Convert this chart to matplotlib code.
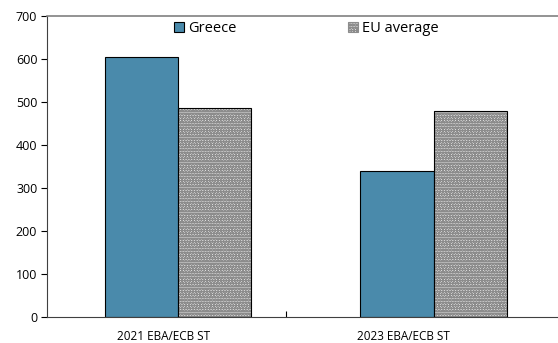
import numpy as np
import matplotlib.pyplot as plt
from matplotlib.patches import Patch

# Data
categories = ["2021 EBA/ECB ST", "2023 EBA/ECB ST"]
greece = [605, 340]
eu_average = [486, 480]

plt.rcParams['font.family'] = ['Open Sans', 'DejaVu Sans']
plt.rcParams['font.size'] = 8

fig = plt.figure(figsize=(5.58, 3.43), dpi=100)
ax = fig.add_axes([47 / 558, 1 - 317 / 343, 1 - 47 / 558, (317 - 16) / 343])

x = np.arange(len(categories))
width = 0.286
blue = "#4a8aab"

ax.bar(x - width / 2, greece, width, color=blue, edgecolor="black", linewidth=0.8, zorder=2)
# hatched bars: texture first, black outline on top
ax.bar(x + width / 2, eu_average, width, color="#ececec", edgecolor="#8c8c8c",
       hatch="oooooo", linewidth=0, zorder=2)
ax.bar(x + width / 2, eu_average, width, fill=False, edgecolor="black", linewidth=0.8, zorder=3)

ax.set_xlim(-0.513, 1.487)
ax.set_ylim(0, 700)
ax.set_yticks(np.arange(0, 701, 100))
ax.tick_params(axis='y', direction='out', length=4, width=0.8, pad=3, labelsize=9)

# category labels as minor ticks (sit a bit left of the bar groups), single separator tick as major
ax.set_xticks([0.423])
ax.set_xticklabels([])
ax.tick_params(axis='x', which='major', direction='in', length=4, width=0.8)
ax.set_xticks(x - np.array([0.057, 0.119]), minor=True)
ax.set_xticklabels(categories, minor=True)
ax.tick_params(axis='x', which='minor', length=0, pad=9, labelsize=8.5)

ax.spines['right'].set_visible(False)
ax.spines['top'].set_color("#808080")
ax.spines['top'].set_linewidth(1.2)
ax.spines['left'].set_color("#404040")
ax.spines['bottom'].set_color("#404040")

handles = [Patch(facecolor=blue, edgecolor="black", linewidth=0.8),
           Patch(facecolor="#ececec", edgecolor="#8c8c8c", hatch="oooooo", linewidth=0.8)]
ax.legend(handles, ["Greece", "EU average"], ncol=2, frameon=False,
          loc='upper left', bbox_to_anchor=(174 / 558, 1 - 21 / 343),
          bbox_transform=fig.transFigure, borderpad=0, borderaxespad=0,
          handlelength=0.7, handleheight=0.7, handletextpad=0.3,
          columnspacing=7.6, fontsize=10.5)

fig.savefig("out.png", dpi=100)
